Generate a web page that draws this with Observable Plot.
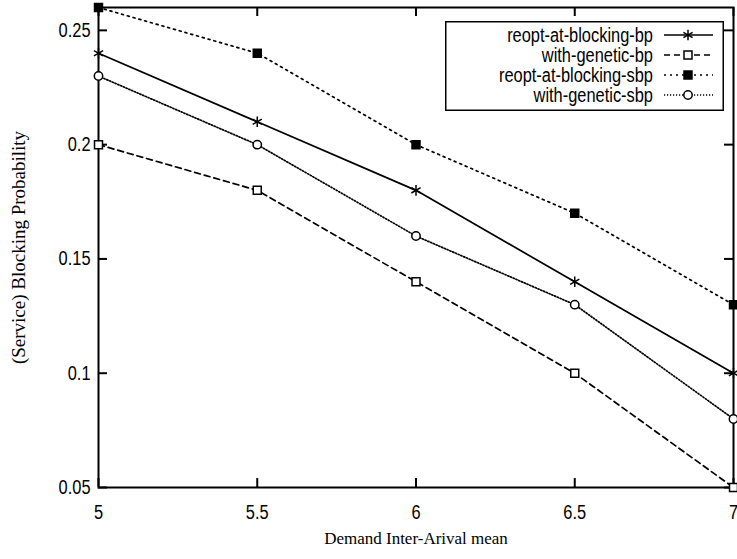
<!DOCTYPE html>
<html>
<head>
<meta charset="utf-8">
<script src="https://cdn.jsdelivr.net/npm/d3@7"></script>
<script src="https://cdn.jsdelivr.net/npm/@observablehq/plot@0.6"></script>
<style>
  html, body { margin: 0; padding: 0; background: #fff; }
  #chart { position: relative; width: 737px; height: 559px; }
  #legend { position: absolute; left: 445px; top: 21px; }
</style>
</head>
<body>
<div id="chart"></div>
<script>
// ---- data ----
const xValues = [5, 5.5, 6, 6.5, 7];
const seriesNames = ["reopt-at-blocking-bp", "with-genetic-bp", "reopt-at-blocking-sbp", "with-genetic-sbp"];
const reoptBp = [0.24, 0.21, 0.18, 0.14, 0.10];
const geneticBp = [0.20, 0.18, 0.14, 0.10, 0.05];
const reoptSbp = [0.26, 0.24, 0.20, 0.17, 0.13];
const geneticSbp = [0.23, 0.20, 0.16, 0.13, 0.08];
const xTicks = [5, 5.5, 6, 6.5, 7];
const yTicks = [0.05, 0.1, 0.15, 0.2, 0.25];
const xTitle = "Demand Inter-Arival mean";
const yTitle = "(Service) Blocking Probability";

// ---- layout / styles ----
const W = 737, H = 559, mL = 98, mR = 4, mT = 7, mB = 72;
const plotW = W - mL - mR, plotH = H - mT - mB;
const tickLen = 9;
const styles = {
  "reopt-at-blocking-bp": {dash: null, symbol: "asterisk", fill: "none", r: 5},
  "with-genetic-bp": {dash: "6,4", symbol: "square", fill: "white", r: 4.5},
  "reopt-at-blocking-sbp": {dash: "2,4", symbol: "square", fill: "black", r: 4.5},
  "with-genetic-sbp": {dash: "1.2,1.8", symbol: "circle", fill: "white", r: 4.2}
};
const allValues = [reoptBp, geneticBp, reoptSbp, geneticSbp];
const rows = [];
seriesNames.forEach((s, i) => xValues.forEach((x, j) => rows.push({series: s, x, y: allValues[i][j]})));

const sans = "'Liberation Sans', Arial, Helvetica, sans-serif";
const serif = "'Liberation Serif', 'Times New Roman', serif";
const fs = 20;
const condense = 0.82;
const titleFs = 17;
const yTitleFs = 19;

const marks = [];
seriesNames.forEach(s => {
  marks.push(Plot.line(rows.filter(d => d.series === s), {
    x: "x", y: "y", stroke: "black", strokeWidth: 1.7,
    strokeDasharray: styles[s].dash
  }));
});
marks.push(Plot.frame({stroke: "black", strokeWidth: 2}));
// inward ticks on all four sides
marks.push(Plot.tickX(xTicks, {x: d => d, insetTop: plotH - tickLen, stroke: "black", strokeWidth: 2}));
marks.push(Plot.tickX(xTicks, {x: d => d, insetBottom: plotH - tickLen, stroke: "black", strokeWidth: 2}));
marks.push(Plot.tickY(yTicks, {y: d => d, insetRight: plotW - tickLen, stroke: "black", strokeWidth: 2}));
marks.push(Plot.tickY(yTicks, {y: d => d, insetLeft: plotW - tickLen, stroke: "black", strokeWidth: 2}));
// tick labels
marks.push(Plot.axisX({anchor: "bottom", ticks: xTicks, tickSize: 0, tickPadding: 17, fontSize: fs, fontFamily: sans, label: null, tickFormat: d => String(d)}));
marks.push(Plot.axisY({anchor: "left", ticks: yTicks, tickSize: 0, tickPadding: 8, fontSize: fs, fontFamily: sans, label: null, tickFormat: d => String(d)}));
// axis titles
marks.push(Plot.text([xTitle], {frameAnchor: "bottom", textAnchor: "middle", dy: 56, fontSize: titleFs, fontFamily: serif, fill: "black"}));
marks.push(Plot.text([yTitle], {frameAnchor: "left", textAnchor: "middle", rotate: -90, dx: -80, fontSize: yTitleFs, fontFamily: serif, fill: "black"}));
// markers
seriesNames.forEach(s => {
  const st = styles[s];
  marks.push(Plot.dot(rows.filter(d => d.series === s), {
    x: "x", y: "y", symbol: st.symbol, r: st.r,
    stroke: "black", strokeWidth: 1.5, fill: st.fill
  }));
});

const plot = Plot.plot({
  width: W, height: H,
  marginLeft: mL, marginRight: mR, marginTop: mT, marginBottom: mB,
  x: {domain: [5, 7]},
  y: {domain: [0.05, 0.26]},
  style: {background: "white", color: "black", overflow: "visible"},
  marks
});
const chart = document.getElementById("chart");
chart.appendChild(plot);

// narrow (Helvetica-Narrow-like) look for the sans-serif labels
function condenseText(el) {
  const len = el.getComputedTextLength();
  if (len > 0) {
    el.setAttribute("textLength", (len * condense).toFixed(2));
    el.setAttribute("lengthAdjust", "spacingAndGlyphs");
  }
}
plot.querySelectorAll("g[aria-label$='tick label'] text").forEach(condenseText);

// ---- legend (overlay, inside the plot's top-right corner) ----
const lw = 279, lh = 90;
const legend = d3.select(chart).append("div").attr("id", "legend")
  .append("svg").attr("width", lw).attr("height", lh);
legend.append("rect").attr("x", 0.75).attr("y", 0.75).attr("width", lw - 1.5).attr("height", lh - 1.5)
  .attr("fill", "white").attr("stroke", "black").attr("stroke-width", 1.5);
const symMap = {asterisk: d3.symbolAsterisk, square: d3.symbolSquare, circle: d3.symbolCircle};
seriesNames.forEach((s, i) => {
  const st = styles[s];
  const cy = 14 + i * 20;
  const t = legend.append("text").attr("x", 208).attr("y", cy).attr("dy", "0.35em")
    .attr("text-anchor", "end").attr("font-family", sans).attr("font-size", fs).text(s);
  condenseText(t.node());
  legend.append("line").attr("x1", 219).attr("x2", 268).attr("y1", cy).attr("y2", cy)
    .attr("stroke", "black").attr("stroke-width", 1.7).attr("stroke-dasharray", st.dash);
  legend.append("path").attr("transform", `translate(243,${cy})`)
    .attr("d", d3.symbol(symMap[st.symbol], Math.PI * st.r * st.r)())
    .attr("fill", st.fill === "none" ? "none" : st.fill).attr("stroke", "black").attr("stroke-width", 1.5);
});
</script>
</body>
</html>
